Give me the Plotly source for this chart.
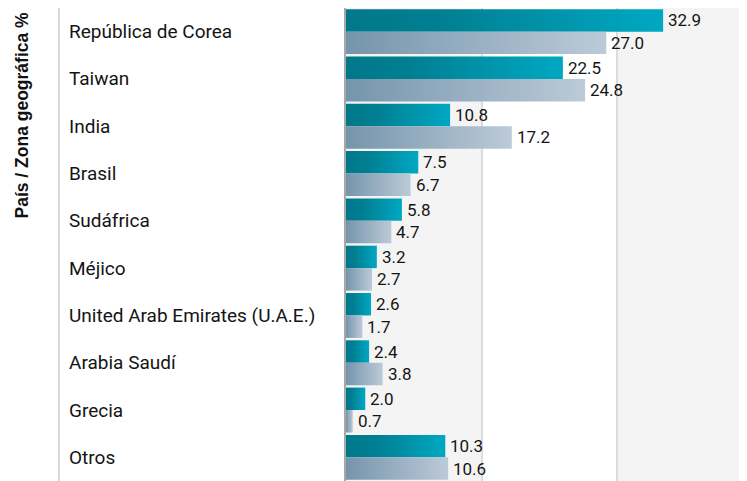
import plotly.graph_objects as go

categories = ["República de Corea", "Taiwan", "India", "Brasil", "Sudáfrica", "Méjico",
              "United Arab Emirates (U.A.E.)", "Arabia Saudí", "Grecia", "Otros"]
series_a = [32.9, 22.5, 10.8, 7.5, 5.8, 3.2, 2.6, 2.4, 2.0, 10.3]
series_b = [27.0, 24.8, 17.2, 6.7, 4.7, 2.7, 1.7, 3.8, 0.7, 10.6]
y_title = "País / Zona geográfica %"

# page has an 8px body margin, so the figure is sized/positioned to compensate
OFF = 8
W, H = 747 - OFF, 481 - OFF
ML, MT = 346 - OFF, 8 - OFF
PW = W - ML
XMAX = 41.6
GRID = [14.06, 28.12]

BAR_H = 0.475
teal_scale = [[0, "#00788a"], [0.3, "#007f92"], [1, "#00a8c3"]]
grey_scale = [[0, "#7595ac"], [1, "#bccad8"]]

fig = go.Figure()

def add_bar(val, yc, scale):
    y0, y1 = yc - BAR_H / 2, yc + BAR_H / 2
    fig.add_trace(go.Scatter(
        x=[0, val, val, 0, 0], y=[y0, y0, y1, y1, y0],
        mode="lines", fill="toself", line=dict(width=0, color="rgba(0,0,0,0)"),
        fillgradient=dict(type="horizontal", colorscale=scale, start=0, stop=val),
        hoverinfo="skip", showlegend=False))

for i, (a, b) in enumerate(zip(series_a, series_b)):
    add_bar(a, i - BAR_H / 2, teal_scale)
    add_bar(b, i + BAR_H / 2, grey_scale)

annotations = []
label_font = dict(family="Roboto", size=17, color="#141414")
for i, (a, b) in enumerate(zip(series_a, series_b)):
    for v, yc in ((a, i - BAR_H / 2), (b, i + BAR_H / 2)):
        annotations.append(dict(
            text=f"{v:.1f}", xref="x", yref="y", x=v, y=yc, xanchor="left",
            yanchor="middle", xshift=3, showarrow=False, font=label_font))

shapes = [
    dict(type="rect", xref="x", yref="paper", x0=0, x1=GRID[0], y0=0, y1=1,
         fillcolor="#f4f4f4", line=dict(width=0), layer="below"),
    dict(type="rect", xref="x", yref="paper", x0=GRID[1], x1=XMAX, y0=0, y1=1,
         fillcolor="#f4f4f4", line=dict(width=0), layer="below"),
    dict(type="line", xref="paper", yref="paper", x0=(59 - OFF - ML) / PW,
         x1=(59 - OFF - ML) / PW, y0=0, y1=1, line=dict(color="#dadada", width=2)),
]

for i, c in enumerate(categories):
    annotations.append(dict(
        text=c, xref="paper", yref="y", x=(67 - OFF - ML) / PW, y=i, xanchor="left",
        yanchor="middle", showarrow=False,
        font=dict(family="Roboto", size=19, color="#141414")))
annotations.append(dict(
    text=y_title, xref="paper", yref="paper", x=(21 - OFF - ML) / PW, y=1 - 2 / (H - MT),
    xanchor="center", yanchor="top", textangle=-90, showarrow=False,
    font=dict(family="Liberation Sans, Arial", size=17.5, color="#111111", weight="bold")))

fig.update_layout(
    width=W, height=H,
    margin=dict(l=ML, r=0, t=MT, b=0, pad=0),
    paper_bgcolor="white", plot_bgcolor="white",
    shapes=shapes, annotations=annotations,
    xaxis=dict(range=[0, XMAX], tickvals=GRID, showticklabels=False, ticks="",
               showgrid=True, gridcolor="#dcdcdc", gridwidth=2, zeroline=False,
               showline=False, fixedrange=True),
    yaxis=dict(range=[len(categories) - 0.5, -0.5], showticklabels=False, ticks="",
               showgrid=False, zeroline=False, showline=True, linecolor="#a8a8a8",
               linewidth=2, fixedrange=True),
    showlegend=False,
)

fig.write_html("out.html")
